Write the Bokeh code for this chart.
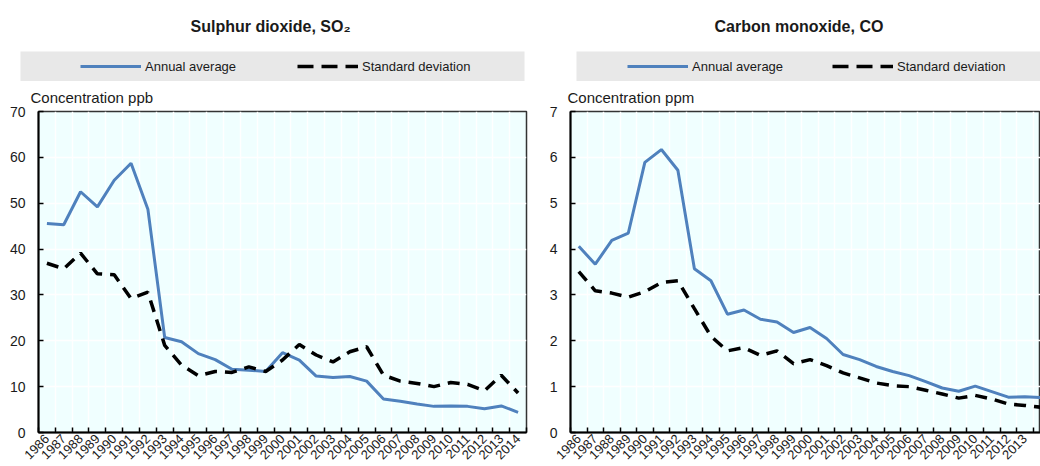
import math
from bokeh.plotting import figure
from bokeh.models import Legend, LegendItem, Title, FixedTicker, Range1d, ColumnDataSource
from bokeh.layouts import row, column
from bokeh.embed import file_html
from bokeh.resources import INLINE

# ---------------- data ----------------
years = list(range(1986, 2015))
year_labels = [str(y) for y in years]

so2_avg = [45.6, 45.3, 52.5, 49.2, 55.0, 58.7, 48.7, 20.7, 19.8, 17.2, 15.9, 13.8, 13.6, 13.3,
           17.4, 15.8, 12.3, 12.0, 12.2, 11.2, 7.3, 6.8, 6.2, 5.7, 5.8, 5.7, 5.2, 5.8, 4.4]
so2_sd = [36.9, 35.7, 39.1, 34.6, 34.4, 29.2, 30.6, 19.0, 14.7, 12.4, 13.3, 13.1, 14.3, 13.3,
          15.8, 19.2, 16.9, 15.4, 17.6, 18.7, 12.5, 11.2, 10.7, 10.0, 10.9, 10.5, 9.1, 12.5, 8.6]

co_avg = [4.06, 3.67, 4.19, 4.35, 5.89, 6.17, 5.72, 3.57, 3.31, 2.58, 2.67, 2.47, 2.41, 2.18,
          2.29, 2.05, 1.70, 1.59, 1.44, 1.33, 1.24, 1.11, 0.97, 0.90, 1.01, 0.89, 0.77, 0.78, 0.76]
co_sd = [3.51, 3.09, 3.04, 2.95, 3.07, 3.27, 3.31, 2.70, 2.10, 1.78, 1.85, 1.68, 1.78, 1.50,
         1.59, 1.46, 1.30, 1.19, 1.08, 1.02, 1.00, 0.92, 0.84, 0.75, 0.81, 0.73, 0.62, 0.59, 0.55]

so2_ticks = [0, 10, 20, 30, 40, 50, 60, 70]
co_ticks = [0, 1, 2, 3, 4, 5, 6, 7]

# ---------------- style ----------------
BLUE = "#4F81BD"
BG = "#F0FFFF"
BAND = "#E8E8E8"
FONT = "Liberation Sans"
TXT = "#1a1a1a"


def make_header(title_text, avg, sd, width, left, right, title_offset, legend_x, spacing,
                label_width):
    h = figure(width=width, height=81, x_range=Range1d(0, 1), y_range=Range1d(0, 1),
               x_axis_type=None, y_axis_type=None, toolbar_location=None,
               output_backend="svg", min_border_left=left, min_border_right=right,
               min_border_top=51, min_border_bottom=0)
    h.background_fill_color = BAND
    h.border_fill_color = "white"
    h.outline_line_color = None
    h.title.text = title_text
    h.title.text_font = FONT
    h.title.text_font_size = "16px"
    h.title.text_font_style = "bold"
    h.title.text_color = TXT
    h.title.align = "left"
    h.title.offset = title_offset
    h.title.standoff = 30
    h.title.vertical_align = "top"
    # legend-only renderers (their data lies outside this band's ranges)
    r1 = h.line(x=years, y=avg, line_color=BLUE, line_width=3)
    r2 = h.line(x=years, y=sd, line_color="black", line_width=3.5, line_dash="16 8")
    leg = Legend(items=[LegendItem(label="Annual average", renderers=[r1]),
                        LegendItem(label="Standard deviation", renderers=[r2])],
                 orientation="horizontal", location=(legend_x, 5), padding=0, margin=0,
                 spacing=spacing, label_standoff=4, glyph_width=61, glyph_height=20,
                 label_width=label_width, label_height=20,
                 label_text_font=FONT, label_text_font_size="13px", label_text_color=TXT,
                 border_line_color=None, background_fill_alpha=0)
    h.add_layout(leg, "center")
    return h


def make_main(avg, sd, yticks, ymax, width, x_end, left, right, ylabel, ylabel_offset):
    p = figure(width=width, height=385, x_range=Range1d(1985.5, x_end),
               y_range=Range1d(0, ymax), toolbar_location=None, output_backend="svg",
               min_border_left=left, min_border_right=right, min_border_top=0,
               min_border_bottom=0)
    p.background_fill_color = BG
    p.border_fill_color = "white"
    p.outline_line_color = "#333333"
    p.outline_line_width = 1.5
    t = Title(text=ylabel, align="left", offset=ylabel_offset, standoff=11,
              text_font=FONT, text_font_size="15px", text_font_style="normal",
              text_color=TXT)
    p.add_layout(t, "above")

    src = ColumnDataSource(dict(year=years, avg=avg, sd=sd))
    p.line("year", "avg", source=src, line_color=BLUE, line_width=3)
    p.line("year", "sd", source=src, line_color="black", line_width=3.5, line_dash="12 8")

    xt = FixedTicker(ticks=years, minor_ticks=[y - 0.5 for y in years] + [years[-1] + 0.5])
    xa = p.xaxis[0]
    xa.ticker = xt
    xa.major_label_overrides = {y: s for y, s in zip(years, year_labels)}
    xa.major_label_orientation = math.pi / 4
    xa.major_tick_line_color = None
    xa.minor_tick_in = 5
    xa.minor_tick_out = 0
    xa.minor_tick_line_color = "black"
    xa.minor_tick_line_width = 1.5
    xa.axis_line_color = "black"
    xa.axis_line_width = 2
    xa.major_label_standoff = -2
    xa.major_label_text_font = FONT
    xa.major_label_text_font_size = "13px"
    xa.major_label_text_color = TXT

    yt = FixedTicker(ticks=yticks, minor_ticks=[])
    ya = p.yaxis[0]
    ya.ticker = yt
    ya.major_tick_in = 5
    ya.major_tick_out = 0
    ya.major_tick_line_color = "black"
    ya.major_tick_line_width = 1.5
    ya.minor_tick_line_color = None
    ya.axis_line_color = "black"
    ya.axis_line_width = 2
    ya.major_label_standoff = 13
    ya.major_label_text_font = FONT
    ya.major_label_text_font_size = "14px"
    ya.major_label_text_color = TXT

    xg = p.xgrid[0]
    xg.ticker = xt
    xg.grid_line_color = None
    xg.minor_grid_line_color = "white"
    xg.minor_grid_line_width = 1.5
    yg = p.ygrid[0]
    yg.ticker = yt
    yg.grid_line_color = "white"
    yg.grid_line_width = 1.5
    return p


hl = make_header("Sulphur dioxide, SO\u2082", so2_avg, so2_sd, 540, 20, 16, 170, 60, 52, 100)
pl = make_main(so2_avg, so2_sd, so2_ticks, 70, 540, 2014.5, 38, 14,
               "Concentration ppb", -8)

hr = make_header("Carbon monoxide, CO", co_avg, co_sd, 500, 36, 0, 138, 51, 40, 100)
pr = make_main(co_avg, co_sd, co_ticks, 7, 500, 2013.95, 30, 0,
               "Concentration ppm", -3)

# wrap each figure so the header band and the plot frame keep their own borders
layout = row(column(row(hl), row(pl)), column(row(hr), row(pr)))

open("out.html", "w").write(file_html(layout, INLINE))
